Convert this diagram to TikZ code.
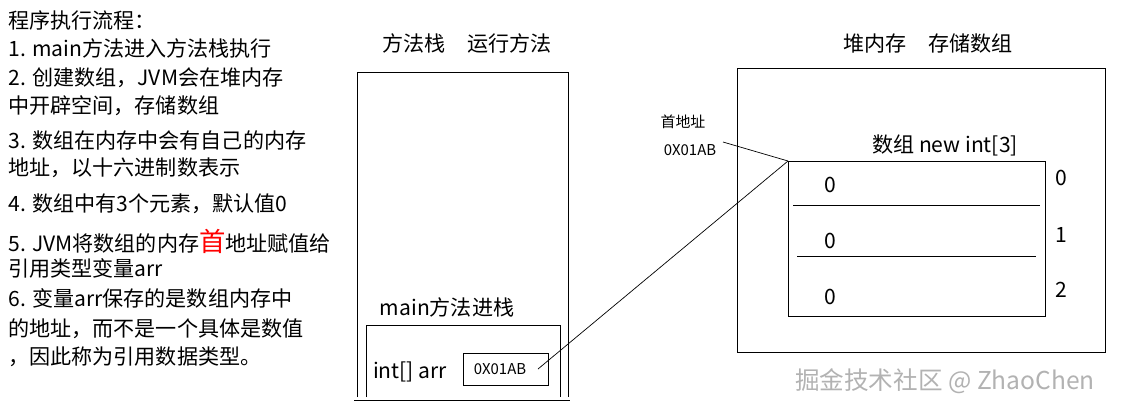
\documentclass[tikz,border=0pt]{standalone}
\usepackage{fontspec}
\setmainfont{Noto Sans CJK SC}
\begin{document}
\begin{tikzpicture}[x=0.02cm,y=-0.02cm,
  t/.style={inner sep=0pt,font=\fontsize{12pt}{14pt}\selectfont},
  s/.style={inner sep=0pt,font=\fontsize{8.5pt}{10pt}\selectfont},
  L/.style={t,anchor=west}]
\useasboundingbox (0,0) rectangle (1125,410);
% left text
\node[L] (l1) at (8,20) {程序执行流程：};
\node[L] (l2) at (8,48) {1. main方法进入方法栈执行};
\node[L] (l3) at (8,78) {2. 创建数组，JVM会在堆内存};
\node[L] (l4) at (8,106) {中开辟空间，存储数组};
\node[L] (l5) at (8,140) {3. 数组在内存中会有自己的内存};
\node[L] (l6) at (8,168) {地址，以十六进制数表示};
\node[L] (l7) at (8,204) {4. 数组中有3个元素，默认值0};
\node[L] (l8) at (8,241) {5. JVM将数组的内存{\color{red}\fontsize{15pt}{16pt}\selectfont 首}地址赋值给};
\node[L] (l9) at (8,268) {引用类型变量arr};
\node[L] (l10) at (8,298) {6. 变量arr保存的是数组内存中};
\node[L] (l11) at (8,329) {的地址，而不是一个具体是数值};
\node[L] (l12) at (8,357) {，因此称为引用数据类型。};
% stack
\node[t] (st) at (467,43) {方法栈\quad 运行方法};
\draw (357,397) -- (357,72) -- (568,72) -- (568,397);
\draw (354,400) -- (570,400);
\node[t] (mn) at (447,307) {main方法进栈};
\draw (366,397) -- (366,325) -- (560,325) -- (560,397);
\node[t] (ia) at (410,372) {int[] arr};
\node[s,draw,minimum width=85*0.02cm,minimum height=32*0.02cm,anchor=north west] (ref) at (463,353) {};
\node[s] at (500,369) {0X01AB};
\coordinate (rp) at (538,369);
% heap
\node[t] (hp) at (928,43) {堆内存\quad 存储数组};
\draw (737,68) rectangle (1105,352);
\node[t] (an) at (945,145) {数组 new int[3]};
\node[draw,minimum width=257*0.02cm,minimum height=155*0.02cm,anchor=north west,inner sep=0pt] (arr) at (788,161) {};
\draw (793,205) -- (1040,205);
\draw (797,256) -- (1036,256);
\node[t] (z0) at (830,185) {0};
\node[t] (z1) at (830,241) {0};
\node[t] (z2) at (830,297) {0};
\node[t] (i0) at (1061,178) {0};
\node[t] (i1) at (1061,235) {1};
\node[t] (i2) at (1061,290) {2};
\node[s] (sd) at (683,122) {首地址};
\node[s] (sa) at (690,150) {0X01AB};
\coordinate (sae) at (723,142);
\draw[line width=0.4pt] (rp) -- (arr.north west);
\draw[line width=0.4pt] (sae) -- (arr.north west);
\node[inner sep=0pt,font=\fontsize{14pt}{16pt}\selectfont,text=gray!60] (wm) at (945,381) {掘金技术社区 @ ZhaoChen};
\end{tikzpicture}
\end{document}
